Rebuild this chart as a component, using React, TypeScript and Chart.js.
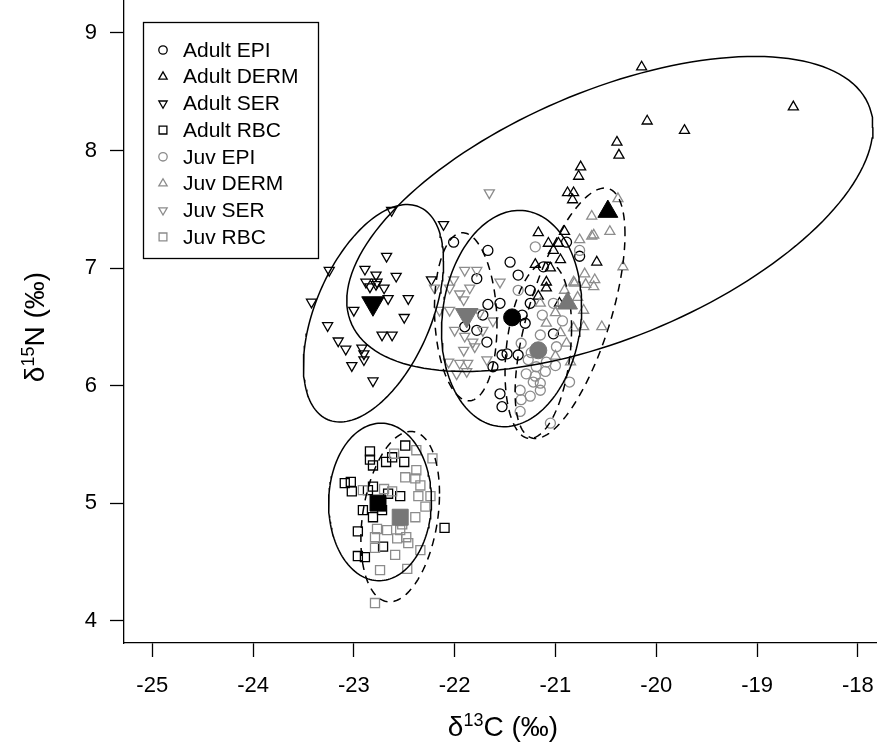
import React, { useEffect, useRef } from "react";
import { Chart, registerables } from "chart.js";

Chart.register(...registerables);

// ---------- axes ----------
const X_MIN = -25.28;
const X_MAX = -17.81;
const Y_MIN = 3.81;
const Y_MAX = 9.28;
const X_TICKS = [-25, -24, -23, -22, -21, -20, -19, -18];
const Y_TICKS = [4, 5, 6, 7, 8, 9];

// ---------- data: Adults ----------
const adultEpiX = [-22.01, -21.67, -21.45, -21.37, -21.78, -21.25, -21.55, -21.67, -21.72, -21.25, -21.30, -21.78, -21.68, -21.48, -21.53, -21.37, -21.62, -21.55, -21.53, -21.12, -20.89, -20.76, -21.02, -21.90, -21.33];
const adultEpiY = [7.22, 7.15, 7.05, 6.94, 6.91, 6.81, 6.70, 6.69, 6.60, 6.70, 6.53, 6.47, 6.37, 6.27, 6.26, 6.26, 6.16, 5.93, 5.82, 7.01, 7.22, 7.10, 6.44, 6.50, 6.60];

const adultDermX = [-20.145, -18.64, -20.09, -19.72, -20.39, -20.37, -20.75, -20.77, -20.88, -20.82, -20.83, -20.59, -20.91, -21.17, -21.07, -20.97, -21.20, -21.05, -21.09, -21.09, -21.17, -21.02, -20.95, -20.96];
const adultDermY = [8.71, 8.37, 8.25, 8.17, 8.07, 7.96, 7.86, 7.78, 7.64, 7.64, 7.58, 7.05, 7.31, 7.30, 7.21, 7.21, 7.03, 7.00, 6.88, 6.83, 6.76, 7.15, 7.07, 6.70];

const adultSerX = [-22.625, -23.244, -23.42, -22.675, -22.89, -22.78, -22.58, -22.88, -22.77, -22.84, -22.70, -22.78, -22.66, -22.46, -23.0, -22.50, -23.26, -23.155, -23.08, -22.92, -22.90, -22.90, -23.02, -22.72, -22.62, -22.81, -22.23, -22.11];
const adultSerY = [7.49, 6.98, 6.71, 7.10, 6.99, 6.94, 6.93, 6.88, 6.88, 6.84, 6.83, 6.86, 6.74, 6.74, 6.64, 6.58, 6.51, 6.38, 6.31, 6.32, 6.27, 6.22, 6.17, 6.43, 6.43, 6.04, 6.90, 7.37];

const adultRbcX = [-22.49, -22.84, -22.84, -22.81, -22.68, -22.62, -22.50, -23.09, -23.03, -23.02, -22.81, -22.86, -22.54, -22.91, -22.81, -22.72, -22.96, -22.71, -22.96, -22.89, -22.10, -22.66];
const adultRbcY = [5.49, 5.44, 5.37, 5.32, 5.35, 5.39, 5.35, 5.17, 5.18, 5.10, 5.14, 5.11, 5.06, 4.94, 4.88, 4.94, 4.76, 4.63, 4.55, 4.54, 4.79, 5.08];

// ---------- data: Juveniles ----------
const juvEpiX = [-21.20, -20.76, -21.37, -21.02, -21.15, -21.34, -20.99, -21.27, -21.19, -21.09, -21.00, -21.29, -21.20, -21.15, -21.22, -21.35, -21.15, -21.25, -21.34, -21.35, -21.05, -20.86, -21.10, -21.24, -20.93, -21.13];
const juvEpiY = [7.18, 7.15, 6.81, 6.70, 6.43, 6.36, 6.33, 6.22, 6.16, 6.20, 6.17, 6.10, 6.08, 6.02, 6.03, 5.96, 5.96, 5.91, 5.88, 5.78, 5.68, 6.03, 6.12, 6.28, 6.55, 6.60];

const juvDermX = [-20.38, -20.64, -20.46, -20.64, -20.33, -20.76, -20.71, -20.61, -20.62, -20.82, -20.91, -20.72, -20.54, -20.82, -20.62, -20.81, -20.72, -20.89, -21.09, -21.00, -20.95, -20.70, -21.15, -20.85, -21.00, -20.78];
const juvDermY = [7.59, 7.44, 7.31, 7.27, 7.01, 7.24, 6.95, 6.90, 6.84, 6.88, 6.81, 6.64, 6.50, 6.49, 7.28, 6.87, 6.50, 6.36, 6.53, 6.62, 6.45, 6.86, 6.70, 6.20, 6.25, 6.75];

const juvSerX = [-21.656, -21.90, -21.78, -22.01, -22.20, -22.05, -21.95, -21.85, -21.91, -22.15, -22.05, -22.00, -21.90, -21.82, -21.91, -21.80, -21.95, -21.87, -21.98, -21.88, -21.68, -21.72, -21.55, -22.06, -21.75, -21.62];
const juvSerY = [7.64, 6.98, 6.98, 6.90, 6.83, 6.83, 6.78, 6.83, 6.73, 6.64, 6.64, 6.47, 6.42, 6.37, 6.30, 6.33, 6.19, 6.19, 6.10, 6.12, 6.22, 6.47, 6.88, 6.20, 6.62, 6.55];

const juvRbcX = [-22.38, -22.22, -22.38, -22.49, -22.39, -22.34, -22.24, -22.36, -22.29, -22.39, -22.62, -22.91, -22.77, -22.67, -22.54, -22.79, -22.48, -22.79, -22.46, -22.34, -22.59, -22.74, -22.47, -22.79, -22.60, -22.70, -22.52, -22.57];
const juvRbcY = [5.45, 5.38, 5.28, 5.22, 5.21, 5.15, 5.06, 5.06, 4.97, 4.88, 5.10, 5.11, 4.78, 4.77, 4.77, 4.71, 4.71, 4.62, 4.66, 4.60, 4.56, 4.43, 4.44, 4.15, 5.42, 5.12, 4.82, 4.70];

// ---------- group means (filled symbols) ----------
// order: Adult EPI, Adult DERM, Adult SER, Adult RBC, Juv EPI, Juv DERM, Juv SER, Juv RBC
const meanX = [-21.43, -20.48, -22.81, -22.76, -21.17, -20.88, -21.88, -22.54];
const meanY = [6.58, 7.48, 6.70, 5.00, 6.30, 6.70, 6.60, 4.88];

// ---------- standard ellipses (centre, half extents, correlation) ----------
const ellCx = [-21.435, -20.46, -22.805, -22.74, -21.17, -20.855, -21.89, -22.54];
const ellCy = [6.57, 7.46, 6.615, 5.01, 6.30, 6.615, 6.585, 4.885];
const ellHx = [0.695, 2.61, 0.695, 0.51, 0.33, 0.545, 0.31, 0.39];
const ellHy = [0.92, 1.34, 0.925, 0.67, 0.75, 1.065, 0.715, 0.725];
const ellRho = [0.11, 0.55, 0.48, 0.02, 0.25, 0.63, -0.1, 0.27];

const LABELS = ["Adult EPI", "Adult DERM", "Adult SER", "Adult RBC", "Juv EPI", "Juv DERM", "Juv SER", "Juv RBC"];
const SHAPES = ["circle", "up", "down", "square", "circle", "up", "down", "square"];

const BLACK = "#000000";
const GRAY = "#8c8c8c";
const GRAY_FILL = "#777777";
const FONT = '"Liberation Sans", Arial, Helvetica, sans-serif';

function zip(xs: number[], ys: number[]) {
  return xs.map((x, i) => ({ x, y: ys[i] }));
}

function ellipse(i: number) {
  const pts: { x: number; y: number }[] = [];
  const s = Math.sqrt(1 - ellRho[i] * ellRho[i]);
  const n = 160;
  for (let k = 0; k <= n; k++) {
    const t = (k / n) * 2 * Math.PI;
    pts.push({
      x: ellCx[i] + ellHx[i] * Math.cos(t),
      y: ellCy[i] + ellHy[i] * (ellRho[i] * Math.cos(t) + s * Math.sin(t)),
    });
  }
  return pts;
}

function styleFor(shape: string, big: boolean) {
  if (shape === "circle") return { pointStyle: "circle", rotation: 0, radius: big ? 8.5 : 5 };
  if (shape === "up") return { pointStyle: "triangle", rotation: 0, radius: big ? 11.5 : 5.8 };
  if (shape === "down") return { pointStyle: "triangle", rotation: 180, radius: big ? 13 : 5.8 };
  return { pointStyle: "rect", rotation: 0, radius: big ? 11.3 : 6.4 };
}

function drawSymbol(ctx: CanvasRenderingContext2D, shape: string, x: number, y: number, color: string) {
  ctx.save();
  ctx.strokeStyle = color;
  ctx.lineWidth = 1.3;
  ctx.beginPath();
  if (shape === "circle") {
    ctx.arc(x, y, 4.2, 0, Math.PI * 2);
  } else if (shape === "up" || shape === "down") {
    const r = 4.8;
    const sign = shape === "up" ? 1 : -1;
    for (let k = 0; k < 3; k++) {
      const a = (k * 2 * Math.PI) / 3;
      const px = x + Math.sin(a) * r;
      const py = y - sign * Math.cos(a) * r;
      if (k === 0) ctx.moveTo(px, py);
      else ctx.lineTo(px, py);
    }
    ctx.closePath();
  } else {
    ctx.rect(x - 3.9, y - 3.9, 7.8, 7.8);
  }
  ctx.stroke();
  ctx.restore();
}

function drawSupText(
  ctx: CanvasRenderingContext2D,
  parts: { t: string; sup: boolean }[],
  cx: number,
  baseline: number
) {
  const big = `28px ${FONT}`;
  const small = `18px ${FONT}`;
  let total = 0;
  const widths = parts.map((p) => {
    ctx.font = p.sup ? small : big;
    const w = ctx.measureText(p.t).width;
    total += w;
    return w;
  });
  let x = cx - total / 2;
  ctx.textAlign = "left";
  ctx.textBaseline = "alphabetic";
  parts.forEach((p, i) => {
    ctx.font = p.sup ? small : big;
    ctx.fillText(p.t, x, p.sup ? baseline - 10 : baseline);
    x += widths[i];
  });
}

const overlayPlugin = {
  id: "overlay",
  afterDraw(chart: any) {
    const ctx: CanvasRenderingContext2D = chart.ctx;
    ctx.save();
    // legend box
    ctx.strokeStyle = BLACK;
    ctx.lineWidth = 1.3;
    ctx.strokeRect(143.5, 22.5, 175, 236);
    ctx.fillStyle = BLACK;
    ctx.font = `21px ${FONT}`;
    ctx.textBaseline = "middle";
    ctx.textAlign = "left";
    LABELS.forEach((lab, i) => {
      const y = 50 + i * 26.7;
      drawSymbol(ctx, SHAPES[i], 163, y, i < 4 ? BLACK : GRAY);
      ctx.fillStyle = BLACK;
      ctx.fillText(lab, 183, y + 1);
    });
    // axis titles
    ctx.fillStyle = BLACK;
    drawSupText(
      ctx,
      [
        { t: "δ", sup: false },
        { t: "13", sup: true },
        { t: "C (‰)", sup: false },
      ],
      503,
      736
    );
    ctx.save();
    ctx.translate(44, 327);
    ctx.rotate(-Math.PI / 2);
    drawSupText(
      ctx,
      [
        { t: "δ", sup: false },
        { t: "15", sup: true },
        { t: "N (‰)", sup: false },
      ],
      0,
      0
    );
    ctx.restore();
    ctx.restore();
  },
};

function noPad(s: any) {
  s.paddingLeft = 0;
  s.paddingRight = 0;
  s.paddingTop = 0;
  s.paddingBottom = 0;
}

export default function App() {
  const ref = useRef<HTMLCanvasElement | null>(null);

  useEffect(() => {
    if (!ref.current) return;
    const groupsX = [adultEpiX, adultDermX, adultSerX, adultRbcX, juvEpiX, juvDermX, juvSerX, juvRbcX];
    const groupsY = [adultEpiY, adultDermY, adultSerY, adultRbcY, juvEpiY, juvDermY, juvSerY, juvRbcY];

    const datasets: any[] = [];
    LABELS.forEach((lab, i) => {
      const st = styleFor(SHAPES[i], false);
      const adult = i < 4;
      datasets.push({
        label: lab,
        data: zip(groupsX[i], groupsY[i]),
        pointStyle: st.pointStyle,
        rotation: st.rotation,
        pointRadius: st.radius,
        pointBorderWidth: 1.3,
        pointBorderColor: adult ? BLACK : GRAY,
        pointBackgroundColor: "rgba(0,0,0,0)",
        showLine: false,
        order: adult ? 5 : 4,
      });
    });
    LABELS.forEach((lab, i) => {
      const adult = i < 4;
      datasets.push({
        label: lab + " ellipse",
        data: ellipse(i),
        showLine: true,
        pointRadius: 0,
        borderColor: BLACK,
        borderWidth: 1.5,
        borderDash: adult ? [] : [8, 6],
        fill: false,
        tension: 0,
        order: 2,
      });
    });
    LABELS.forEach((lab, i) => {
      const st = styleFor(SHAPES[i], true);
      const adult = i < 4;
      datasets.push({
        label: lab + " mean",
        data: [{ x: meanX[i], y: meanY[i] }],
        pointStyle: st.pointStyle,
        rotation: st.rotation,
        pointRadius: st.radius,
        pointBorderWidth: 1,
        pointBorderColor: adult ? BLACK : GRAY_FILL,
        pointBackgroundColor: adult ? BLACK : GRAY_FILL,
        showLine: false,
        order: 1,
      });
    });

    const chart = new Chart(ref.current, {
      type: "scatter",
      data: { datasets },
      plugins: [overlayPlugin],
      options: {
        animation: false,
        responsive: false,
        devicePixelRatio: 1,
        layout: { padding: 0, autoPadding: false },
        plugins: {
          legend: { display: false },
          tooltip: { enabled: false },
          title: { display: false },
        },
        scales: {
          x: {
            type: "linear",
            min: X_MIN,
            max: X_MAX,
            afterBuildTicks: (s: any) => {
              s.ticks = X_TICKS.map((v) => ({ value: v }));
            },
            afterFit: (s: any) => {
              s.height = 103;
              noPad(s);
            },
            ticks: {
              color: BLACK,
              font: { family: FONT, size: 22 },
              padding: 16,
              maxRotation: 0,
              autoSkip: false,
              callback: (v: any) => String(v),
            },
            grid: {
              drawOnChartArea: false,
              drawTicks: true,
              tickLength: 14,
              tickColor: BLACK,
              tickWidth: 1.3,
            },
            border: { display: true, color: BLACK, width: 1.3 },
          },
          y: {
            type: "linear",
            min: Y_MIN,
            max: Y_MAX,
            afterBuildTicks: (s: any) => {
              s.ticks = Y_TICKS.map((v) => ({ value: v }));
            },
            afterFit: (s: any) => {
              s.width = 124;
              noPad(s);
            },
            ticks: {
              color: BLACK,
              font: { family: FONT, size: 22 },
              padding: 13,
              autoSkip: false,
              callback: (v: any) => String(v),
            },
            grid: {
              drawOnChartArea: false,
              drawTicks: true,
              tickLength: 14,
              tickColor: BLACK,
              tickWidth: 1.3,
            },
            border: { display: true, color: BLACK, width: 1.3 },
          },
        },
      } as any,
    });
    return () => chart.destroy();
  }, []);

  return (
    <div style={{ position: "absolute", left: 0, top: 0, width: 877, height: 746, background: "#fff" }}>
      <canvas ref={ref} width={877} height={746} style={{ display: "block", width: 877, height: 746 }} />
    </div>
  );
}
